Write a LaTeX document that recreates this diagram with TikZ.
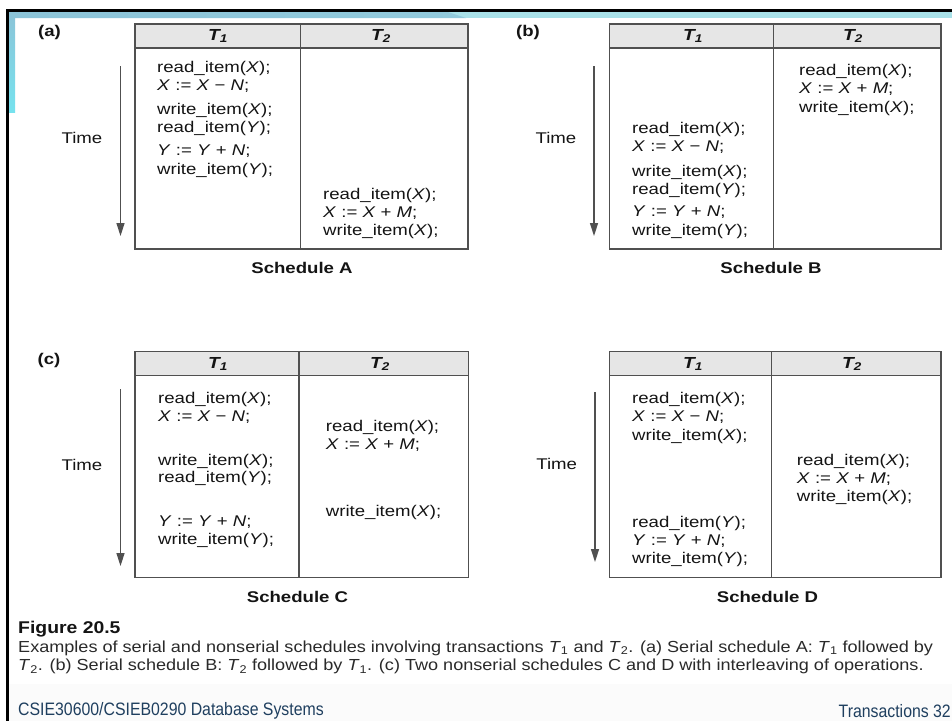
\documentclass[tikz,border=0pt]{standalone}
\usepackage{fontspec}
\setmainfont{Liberation Sans}
\newfontfamily\tfont[FakeStretch=1.2]{Liberation Sans}
\newfontfamily\capfont[FakeStretch=1.13]{Liberation Sans}
\newfontfamily\figfont[FakeStretch=1.14]{Liberation Sans}
\newfontfamily\footfont[FakeStretch=0.88]{Liberation Sans}
\usetikzlibrary{arrows.meta}
\definecolor{bordergray}{HTML}{505050}
\definecolor{hdrgray}{HTML}{E6E6E6}
\definecolor{txt}{HTML}{141414}
\definecolor{bandblue}{HTML}{8CC4D8}
\definecolor{bandcyan}{HTML}{A9E1E8}
\definecolor{bandleft}{HTML}{76E2EE}
\definecolor{foot}{HTML}{1F3F5F}
\definecolor{captxt}{HTML}{2A2A2A}
\tikzset{
  ln/.style={anchor=west, inner sep=0pt, text=txt, font=\tfont\fontsize{15.5}{18}\selectfont, text height=11.5pt, text depth=3pt},
  timelbl/.style={inner sep=0pt, text=txt, font=\tfont\fontsize{15.5}{18}\selectfont},
  hdr/.style={inner sep=0pt, text=txt, font=\tfont\fontsize{16}{18}\selectfont\bfseries\itshape},
  sched/.style={inner sep=0pt, text=txt, font=\tfont\fontsize{15.5}{18}\selectfont\bfseries},
  part/.style={inner sep=0pt, text=txt, font=\tfont\fontsize{15.5}{18}\selectfont\bfseries},
  tbl/.style={draw=bordergray, line width=1.2pt},
  hdrbox/.style={draw=bordergray, line width=1.2pt, fill=hdrgray},
  timearrow/.style={draw=bordergray, line width=1.4pt, -{Triangle[length=13pt,width=8pt]}},
  captext/.style={anchor=west, inner sep=0pt, text=captxt, font=\capfont\fontsize{16}{19}\selectfont},
  figlbl/.style={anchor=west, inner sep=0pt, text=txt, font=\figfont\fontsize{17}{20}\selectfont\bfseries},
  footer/.style={anchor=west, inner sep=0pt, text=foot, font=\footfont\fontsize{18}{20}\selectfont},
}
\newcommand{\vX}{\textit{X}}
\newcommand{\vY}{\textit{Y}}
\newcommand{\vN}{\textit{N}}
\newcommand{\vM}{\textit{M}}
\newcommand{\Tone}{\textit{T}\textsubscript{1}}
\newcommand{\Ttwo}{\textit{T}\textsubscript{2}}
\begin{document}
\begin{tikzpicture}[x=1pt,y=-1pt]
\useasboundingbox (0,0) rectangle (952,721);
\fill[white] (0,0) rectangle (952,721);
% frame decorations
\fill[black!1.5] (9,684) rectangle (952,721);
\fill[bandcyan] (9,12) rectangle (952,18);
\shade[left color=bandblue, right color=bandblue!80!bandcyan] (9,12) -- (448,12) -- (466,18) -- (9,18) -- cycle;
\shade[top color=bandblue, bottom color=bandleft] (9,12) rectangle (15,112);
\fill[black] (6,9) rectangle (952,12);
\fill[black] (6,9) rectangle (9,721);

% ===== Schedule A =====
\node[part] (pa) at (49.5,32) {(a)};
\draw[hdrbox] (135,24) rectangle (468,48);
\draw[tbl] (135,48) rectangle (468,249);
\draw[tbl] (300.7,24) -- (300.7,249);
\node[hdr] (ha1) at (218,36) {T\textsubscript{1}};
\node[hdr] (ha2) at (381,36) {T\textsubscript{2}};
\node[timelbl] (ta) at (82,138) {Time};
\coordinate (asA) at (120.5,66);
\coordinate (aeA) at (120.5,236);
\draw[timearrow] (asA) -- (aeA);
\node[ln] (a1) at (157,68.3) {read\_item(\vX);};
\node[ln] (a2) at (157,86) {\vX{} := \vX{} − \vN;};
\node[ln] (a3) at (157,110) {write\_item(\vX);};
\node[ln] (a4) at (157,128.3) {read\_item(\vY);};
\node[ln] (a5) at (157,151.7) {\vY{} := \vY{} + \vN;};
\node[ln] (a6) at (157,170) {write\_item(\vY);};
\node[ln] (a7) at (323,195) {read\_item(\vX);};
\node[ln] (a8) at (323,213) {\vX{} := \vX{} + \vM;};
\node[ln] (a9) at (323,231.7) {write\_item(\vX);};
\node[sched] (sa) at (302,267.7) {Schedule A};

% ===== Schedule B =====
\node[part] (pb) at (528,32) {(b)};
\draw[hdrbox] (609.3,24) rectangle (941,48);
\draw[tbl] (609.3,48) rectangle (941,249);
\draw[tbl] (773.3,24) -- (773.3,249);
\node[hdr] (hb1) at (693,36) {T\textsubscript{1}};
\node[hdr] (hb2) at (853,36) {T\textsubscript{2}};
\node[timelbl] (tb) at (556,138) {Time};
\coordinate (bsA) at (594,66);
\coordinate (beA) at (594,236);
\draw[timearrow] (bsA) -- (beA);
\node[ln] (b1) at (799,71) {read\_item(\vX);};
\node[ln] (b2) at (799,89.3) {\vX{} := \vX{} + \vM;};
\node[ln] (b3) at (799,108.3) {write\_item(\vX);};
\node[ln] (b4) at (632,129.3) {read\_item(\vX);};
\node[ln] (b5) at (632,147.7) {\vX{} := \vX{} − \vN;};
\node[ln] (b6) at (632,172.3) {write\_item(\vX);};
\node[ln] (b7) at (632,190.7) {read\_item(\vY);};
\node[ln] (b8) at (632,212.7) {\vY{} := \vY{} + \vN;};
\node[ln] (b9) at (632,231.3) {write\_item(\vY);};
\node[sched] (sb) at (771,268) {Schedule B};

% ===== Schedule C =====
\node[part] (pc) at (49,360) {(c)};
\draw[hdrbox] (135,351.7) rectangle (468.3,375.3);
\draw[tbl] (135,375.3) rectangle (468.3,577.3);
\draw[tbl] (299,351.7) -- (299,577.3);
\node[hdr] (hc1) at (218,364) {T\textsubscript{1}};
\node[hdr] (hc2) at (380,364) {T\textsubscript{2}};
\node[timelbl] (tc) at (82,465.3) {Time};
\coordinate (csA) at (120.5,389.3);
\coordinate (ceA) at (120.5,566);
\draw[timearrow] (csA) -- (ceA);
\node[ln] (c1) at (158,399.3) {read\_item(\vX);};
\node[ln] (c2) at (158,417.3) {\vX{} := \vX{} − \vN;};
\node[ln] (c3) at (158,461) {write\_item(\vX);};
\node[ln] (c4) at (158,478.7) {read\_item(\vY);};
\node[ln] (c5) at (158,522.3) {\vY{} := \vY{} + \vN;};
\node[ln] (c6) at (158,540.7) {write\_item(\vY);};
\node[ln] (c7) at (325.7,427.3) {read\_item(\vX);};
\node[ln] (c8) at (325.7,445) {\vX{} := \vX{} + \vM;};
\node[ln] (c9) at (325.7,512.7) {write\_item(\vX);};
\node[sched] (sc) at (297.5,596.7) {Schedule C};

% ===== Schedule D =====
\draw[hdrbox] (609.3,351.7) rectangle (941,375.3);
\draw[tbl] (609.3,375.3) rectangle (941,577.3);
\draw[tbl] (771.7,351.7) -- (771.7,577.3);
\node[hdr] (hd1) at (693,364) {T\textsubscript{1}};
\node[hdr] (hd2) at (852,364) {T\textsubscript{2}};
\node[timelbl] (td) at (556.7,463.7) {Time};
\coordinate (dsA) at (595,392);
\coordinate (deA) at (595,562);
\draw[timearrow] (dsA) -- (deA);
\node[ln] (d1) at (632,399.3) {read\_item(\vX);};
\node[ln] (d2) at (632,417.7) {\vX{} := \vX{} − \vN;};
\node[ln] (d3) at (632,436.3) {write\_item(\vX);};
\node[ln] (d4) at (632,523.3) {read\_item(\vY);};
\node[ln] (d5) at (632,541) {\vY{} := \vY{} + \vN;};
\node[ln] (d6) at (632,559.7) {write\_item(\vY);};
\node[ln] (d7) at (796.7,461) {read\_item(\vX);};
\node[ln] (d8) at (796.7,479) {\vX{} := \vX{} + \vM;};
\node[ln] (d9) at (796.7,497.3) {write\_item(\vX);};
\node[sched] (sd) at (767.5,596.7) {Schedule D};

% ===== Caption =====
\node[figlbl] (fig) at (18,629) {Figure 20.5};
\node[captext] (cap1) at (18,648) {Examples of serial and nonserial schedules involving transactions \Tone{} and \Ttwo. (a) Serial schedule A: \Tone{} followed by};
\node[captext] (cap2) at (18,666.5) {\Ttwo. (b) Serial schedule B: \Ttwo{} followed by \Tone. (c) Two nonserial schedules C and D with interleaving of operations.};

% ===== Footer =====
\node[footer] (ft1) at (18,711) {CSIE30600/CSIEB0290 Database Systems};
\node[footer, anchor=east] (ft2) at (951,711) {Transactions 32};
\end{tikzpicture}
\end{document}
